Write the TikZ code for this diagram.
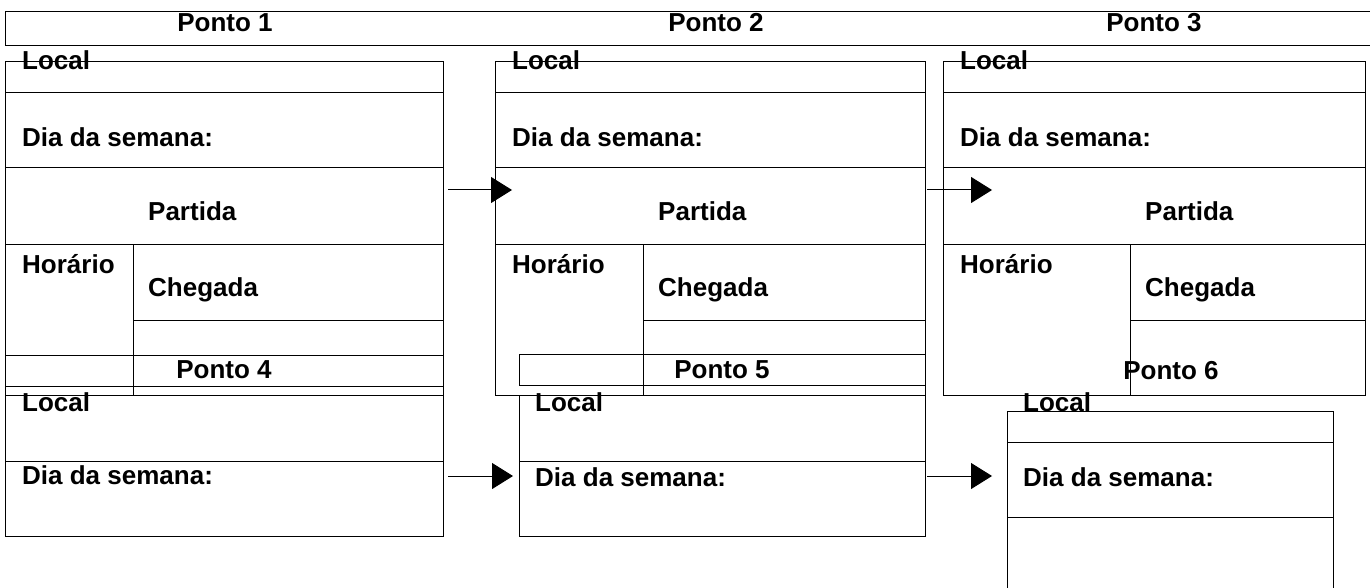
\documentclass[tikz,border=0pt]{standalone}
\usepackage{fontspec}
\setmainfont{Liberation Sans}
\usetikzlibrary{arrows.meta,fit}

\tikzset{
  cell/.style={draw=black, line width=1pt, inner sep=0pt, outer sep=0pt},
  lbl/.style={font=\fontsize{26}{30}\selectfont\bfseries, inner sep=0pt, anchor=base west},
  seta/.style={line width=1pt, -{Triangle[length=21pt,width=26pt]}}
}

\begin{document}
\begin{tikzpicture}[x=1pt,y=-1pt]
        \useasboundingbox (0,0) rectangle (1370,588);

        % faixa de cima
        \node[cell, fit={(5,12) (1385,46)}] (topo) {};

        % pontos 1 a 3
        \foreach \n/\l/\d/\r/\c in {1/5/133/443/225, 2/495/643/925/716, 3/943/1130/1365/1154}{
          \node[lbl, anchor=base] (tit\n) at (\c,32) {Ponto \n};
          \node[cell, fit={(\l,62) (\r,93)}] (loc\n) {};
          \node[cell, fit={(\l,93) (\r,168)}] (dia\n) {};
          \node[cell, fit={(\l,168) (\r,244)}] (par\n) {};
          \node[cell, fit={(\l,244) (\d,395)}] (hor\n) {};
          \node[cell, fit={(\d,244) (\r,320)}] (che\n) {};
          \node[cell, fit={(\d,320) (\r,395)}] (vaz\n) {};
          \node[lbl] (tloc\n) at (\l+17,70) {Local};
          \node[lbl] (tdia\n) at (\l+17,147) {Dia da semana:};
          \node[lbl] (tpar\n) at (\d+15,220) {Partida};
          \node[lbl] (thor\n) at (\l+17,273) {Horário};
          \node[lbl] (tche\n) at (\d+15,296) {Chegada};
        }

        % ponto 4
        \node[cell, fit={(5,355) (443,386)}] (tit4box) {};
        \node[lbl, anchor=base] (tit4) at (224,378) {Ponto 4};
        \node[cell, fit={(5,395) (443,461)}] (loc4) {};
        \node[cell, fit={(5,461) (443,536)}] (dia4) {};
        \node[lbl] (tloc4) at (22,411) {Local};
        \node[lbl] (tdia4) at (22,484) {Dia da semana:};

        % ponto 5
        \node[cell, fit={(519,354) (925,385)}] (tit5box) {};
        \node[lbl, anchor=base] (tit5) at (722,378) {Ponto 5};
        \node[cell, fit={(519,395) (925,461)}] (loc5) {};
        \node[cell, fit={(519,461) (925,536)}] (dia5) {};
        \node[lbl] (tloc5) at (535,411) {Local};
        \node[lbl] (tdia5) at (535,486) {Dia da semana:};

        % ponto 6
        \node[lbl, anchor=base] (tit6) at (1171,379) {Ponto 6};
        \node[cell, fit={(1007,411) (1333,442)}] (loc6) {};
        \node[cell, fit={(1007,442) (1333,517)}] (dia6) {};
        \node[cell, fit={(1007,517) (1333,600)}] (vaz6) {};
        \node[lbl] (tloc6) at (1023,411) {Local};
        \node[lbl] (tdia6) at (1023,486) {Dia da semana:};

        % setas
        \draw[seta] ([shift={(5,22)}]par1.north east) -- ([shift={(17,22)}]par2.north west);
        \draw[seta] ([shift={(2,22)}]par2.north east) -- ([shift={(49,22)}]par3.north west);
        \draw[seta] ([shift={(5,15)}]dia4.north east) -- ([shift={(-6,15)}]dia5.north west);
        \draw[seta] ([shift={(2,15)}]dia5.north east) -- ([shift={(-15,34)}]dia6.north west);

\end{tikzpicture}
\end{document}
